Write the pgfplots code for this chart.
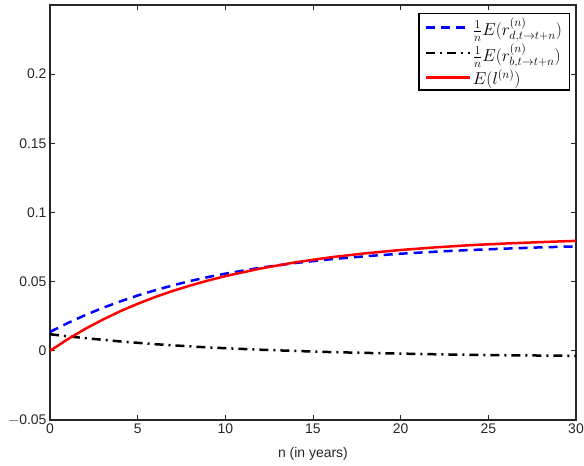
\documentclass[border=0pt]{standalone}
\usepackage{pgfplots}
\pgfplotsset{compat=1.18}
\usepackage{fontspec}
\setmainfont{Liberation Sans}

\definecolor{axgray}{RGB}{38,38,38}

\begin{document}
\begin{tikzpicture}
\begin{axis}[
  scale only axis,
  width=526bp, height=415bp,
  xmin=0, xmax=30,
  ymin=-0.05, ymax=0.25,
  xtick={0,5,...,30},
  ytick={-0.05,0,0.05,0.1,0.15,0.2},
  yticklabels={$-$0.05,0,0.05,0.1,0.15,0.2},
  scaled y ticks=false,
  /pgf/number format/assume math mode=true,
  tick align=inside,
  major tick length=5bp,
  axis line style={axgray, line width=1.1pt},
  every tick/.style={axgray, line width=0.8pt},
  tick label style={font=\fontsize{14}{16}\selectfont, text=axgray},
  xlabel={n (in years)},
  xlabel style={font=\fontsize{14}{16}\selectfont, text=axgray, yshift=-7bp},
  legend cell align=left,
  legend style={
    at={(1,1)}, anchor=north east, xshift=-6bp, yshift=-8bp,
    draw=black, line width=1.2pt, font=\fontsize{18}{21}\selectfont,
    inner xsep=6bp, inner ysep=2.5bp, row sep=3.5bp,
    nodes={inner sep=1.5bp},
  },
  legend image code/.code={\draw[#1, line width=2.5bp] (0bp,0bp) -- (44bp,0bp);},
]
\coordinate (sw) at (rel axis cs:0,0);

% excess return on the dividend claim
\addplot[blue, line width=2.5bp, dash pattern=on 9bp off 6bp] coordinates {
 (0,0.0137) (1,0.0200) (2,0.0258) (3,0.0310) (4,0.0357) (5,0.0400)
 (6,0.0438) (7,0.0473) (8,0.0505) (9,0.0533) (10,0.0558) (12,0.0601)
 (14,0.0635) (16,0.0662) (18,0.0684) (20,0.0702) (22,0.0717) (24,0.0729)
 (26,0.0739) (28,0.0748) (30,0.0755)
};
\addlegendentry{$\frac{1}{n}E(r^{(n)}_{d,t\rightarrow t+n})$}

% excess return on the bond
\addplot[black, line width=2.5bp, dash pattern=on 9bp off 5bp on 2bp off 5bp] coordinates {
 (0,0.0120) (1,0.0105) (2,0.0092) (3,0.0080) (4,0.0068) (5,0.0058)
 (6,0.0048) (7,0.0040) (8,0.0032) (9,0.0025) (10,0.0019) (12,0.0008)
 (14,-0.0001) (16,-0.0009) (18,-0.0015) (20,-0.0020) (22,-0.0025)
 (24,-0.0029) (26,-0.0032) (28,-0.0034) (30,-0.0036)
};
\addlegendentry{$\frac{1}{n}E(r^{(n)}_{b,t\rightarrow t+n})$}

% expected log term
\addplot[red, line width=2.5bp] coordinates {
 (0,0) (1,0.0083) (2,0.0158) (3,0.0225) (4,0.0286) (5,0.0340)
 (6,0.0389) (7,0.0433) (8,0.0472) (9,0.0508) (10,0.0540) (12,0.0595)
 (14,0.0640) (16,0.0676) (18,0.0705) (20,0.0729) (22,0.0748)
 (24,0.0764) (26,0.0776) (28,0.0786) (30,0.0795)
};
\addlegendentry{$E(l^{(n)})$}
\end{axis}
\pgfresetboundingbox
\path (sw) ++(-50bp,-46bp) rectangle ++(584bp,466bp);
\end{tikzpicture}
\end{document}
